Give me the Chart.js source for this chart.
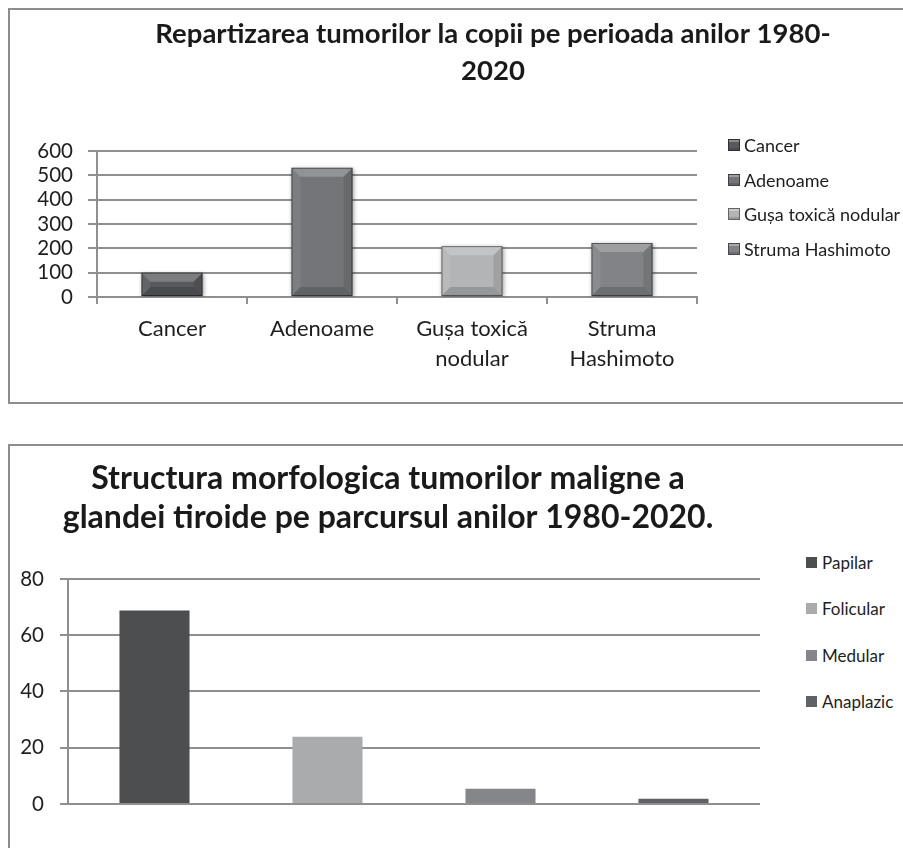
<!DOCTYPE html>
<html>
<head>
<meta charset="utf-8">
<script src="https://cdn.jsdelivr.net/npm/chart.js@4.4.1/dist/chart.umd.min.js"></script>
<style>
html, body { margin: 0; padding: 0; background: #fff; width: 903px; height: 848px; overflow: hidden; }
body { position: relative; font-family: Lato, sans-serif; }
.frame { position: absolute; border: 2px solid #8d8d8d; box-sizing: border-box; background: #fff; }
#frame1 { left: 8px; top: 8px; width: 980px; height: 396px; }
#frame2 { left: 8px; top: 444px; width: 980px; height: 420px; }
.wrap { position: absolute; }
#wrap1 { left: 10px; top: 10px; width: 966px; height: 392px; }
#wrap2 { left: 10px; top: 446px; width: 756px; height: 402px; }
.legend { position: absolute; left: 0; top: 0; color: #1e1e1e; }
#legend1 { font-size: 18px; }
#legend2 { font-size: 17px; }
.legend .item { position: absolute; white-space: nowrap; height: 20px; line-height: 20px; }
.legend .box { position: absolute; top: 4px; box-sizing: border-box; }
.legend .text { position: absolute; top: 0; }
</style>
</head>
<body>
<div class="frame" id="frame1"></div>
<div class="frame" id="frame2"></div>
<div class="wrap" id="wrap1"><canvas id="tumori"></canvas></div>
<div class="wrap" id="wrap2"><canvas id="morfologie"></canvas></div>
<div class="legend" id="legend1"></div>
<div class="legend" id="legend2"></div>
<script>
// ---- data ----
const tumorTitle = ['Repartizarea tumorilor la copii pe perioada anilor 1980-', '2020'];
const tumorLabels = ['Cancer', 'Adenoame', ['Gușa toxică', 'nodular'], ['Struma', 'Hashimoto']];
const tumorValues = [100, 531, 209, 222];
const tumorColors = ['#58595c', '#747578', '#b3b4b6', '#828386'];
const tumorTicks = [0, 100, 200, 300, 400, 500, 600];

const morphTitle = ['Structura morfologica tumorilor maligne a', 'glandei tiroide pe parcursul anilor 1980-2020.'];
const morphLabels = ['Papilar', 'Folicular', 'Medular', 'Anaplazic'];
const morphValues = [68.8, 23.9, 5.4, 1.9];
const morphColors = ['#4d4e50', '#aaabad', '#858689', '#606164'];
const morphTicks = [0, 20, 40, 60, 80];

Chart.defaults.font.family = 'Lato';
Chart.defaults.color = '#1e1e1e';
Chart.defaults.animation = false;

const gridGray = '#8f8f8f';

// empty axis on the right keeps room for the legend without moving the title
function spacer(width) {
    return {
        type: 'linear',
        position: 'right',
        grid: { display: false },
        border: { display: false },
        ticks: { display: false },
        afterFit(scale) { scale.width = width; }
    };
}

// bevel look for the bars of the first chart (Excel 3D effect)
const bevel = {
    id: 'bevel',
    beforeDatasetsDraw(chart) {
        const ctx = chart.ctx;
        ctx.save();
        ctx.shadowColor = 'rgba(0,0,0,0.35)';
        ctx.shadowBlur = 4;
        ctx.shadowOffsetX = 1;
        ctx.shadowOffsetY = 1;
    },
    afterDatasetsDraw(chart) {
        const ctx = chart.ctx;
        ctx.restore();
        ctx.save();
        chart.getDatasetMeta(0).data.forEach(bar => {
            const p = bar.getProps(['x', 'y', 'base', 'width'], true);
            const l = p.x - p.width / 2, r = p.x + p.width / 2, t = p.y, b = p.base;
            const d = Math.min(9, (b - t) / 2);
            const face = (pts, fill) => {
                ctx.beginPath();
                ctx.moveTo(pts[0][0], pts[0][1]);
                pts.slice(1).forEach(q => ctx.lineTo(q[0], q[1]));
                ctx.closePath();
                ctx.fillStyle = fill;
                ctx.fill();
            };
            face([[l, t], [r, t], [r - d, t + d], [l + d, t + d]], 'rgba(255,255,255,0.22)');
            face([[l, t], [l + d, t + d], [l + d, b - d], [l, b]], 'rgba(255,255,255,0.07)');
            face([[r, t], [r, b], [r - d, b - d], [r - d, t + d]], 'rgba(0,0,0,0.10)');
            face([[l, b], [l + d, b - d], [r - d, b - d], [r, b]], 'rgba(0,0,0,0.16)');
            ctx.strokeStyle = 'rgba(0,0,0,0.45)';
            ctx.lineWidth = 1;
            ctx.strokeRect(l + 0.5, t + 0.5, p.width - 1, b - t - 1);
        });
        ctx.restore();
    }
};

// legend drawn as html, one entry per bar
function htmlLegend(chart, id, left, top, step, size, textLeft, bevelBox) {
    const el = document.getElementById(id);
    const colors = chart.data.datasets[0].backgroundColor;
    chart.data.labels.forEach((lab, i) => {
        const item = document.createElement('div');
        item.className = 'item';
        item.style.left = left + 'px';
        item.style.top = (top + i * step - 10) + 'px';
        const box = document.createElement('span');
        box.className = 'box';
        box.style.width = size + 'px';
        box.style.height = size + 'px';
        box.style.background = colors[i];
        if (bevelBox) {
            box.style.border = '1px solid rgba(0,0,0,0.45)';
            box.style.boxShadow = 'inset 0 2px 0 rgba(255,255,255,0.3), inset 0 -2px 0 rgba(0,0,0,0.15)';
        }
        const txt = document.createElement('span');
        txt.className = 'text';
        txt.style.left = textLeft + 'px';
        txt.textContent = [].concat(lab).join(' ');
        item.appendChild(box);
        item.appendChild(txt);
        el.appendChild(item);
    });
}

const tumori = new Chart(document.getElementById('tumori'), {
    type: 'bar',
    data: {
        labels: tumorLabels,
        datasets: [{
            data: tumorValues,
            backgroundColor: tumorColors,
            borderWidth: 0,
            categoryPercentage: 1,
            barPercentage: 0.407
        }]
    },
    options: {
        responsive: true,
        maintainAspectRatio: false,
        layout: { padding: 0 },
        plugins: {
            legend: { display: false },
            tooltip: { enabled: false },
            title: {
                display: true,
                text: tumorTitle,
                color: '#1a1a1a',
                font: { size: 27.5, weight: 'bold', lineHeight: 1.345 },
                padding: { top: 5.5, bottom: 61.5 }
            }
        },
        scales: {
            x: {
                grid: { offset: true, drawOnChartArea: false, drawTicks: true, tickLength: 7, color: gridGray, lineWidth: 2 },
                border: { display: true, color: gridGray, width: 2 },
                ticks: { padding: 10, font: { size: 22, lineHeight: 1.37 }, color: '#1e1e1e', maxRotation: 0, autoSkip: false },
                afterFit(scale) { scale.height = 105; }
            },
            y: {
                min: tumorTicks[0],
                max: tumorTicks[tumorTicks.length - 1],
                grid: { color: gridGray, lineWidth: 2, tickLength: 9 },
                border: { display: true, color: gridGray, width: 2 },
                ticks: { stepSize: 100, autoSkip: false, padding: 15, font: { size: 20.5 }, color: '#1e1e1e' },
                afterFit(scale) { scale.width = 87; }
            },
            legendRoom: spacer(279)
        }
    },
    plugins: [bevel]
});

const morfologie = new Chart(document.getElementById('morfologie'), {
    type: 'bar',
    data: {
        labels: morphLabels,
        datasets: [{
            data: morphValues,
            backgroundColor: morphColors,
            borderWidth: 0,
            categoryPercentage: 1,
            barPercentage: 0.405
        }]
    },
    options: {
        responsive: true,
        maintainAspectRatio: false,
        layout: { padding: { left: 0, right: 0, top: 0, bottom: 44 } },
        plugins: {
            legend: { display: false },
            tooltip: { enabled: false },
            title: {
                display: true,
                text: morphTitle,
                color: '#1a1a1a',
                font: { size: 32, weight: 'bold', lineHeight: 1.22 },
                padding: { top: 13.5, bottom: 41.4 }
            }
        },
        scales: {
            x: { display: false },
            y: {
                min: morphTicks[0],
                max: morphTicks[morphTicks.length - 1],
                grid: { color: gridGray, lineWidth: 2, tickLength: 8 },
                border: { display: true, color: gridGray, width: 2 },
                ticks: { stepSize: 20, autoSkip: false, padding: 16, font: { size: 20.5 }, color: '#1e1e1e' },
                afterFit(scale) { scale.width = 58; }
            },
            legendRoom: spacer(6)
        }
    }
});

htmlLegend(tumori, 'legend1', 728, 145, 34.7, 12, 16, true);
htmlLegend(morfologie, 'legend2', 806, 563, 46.3, 11, 16, false);
</script>
</body>
</html>
